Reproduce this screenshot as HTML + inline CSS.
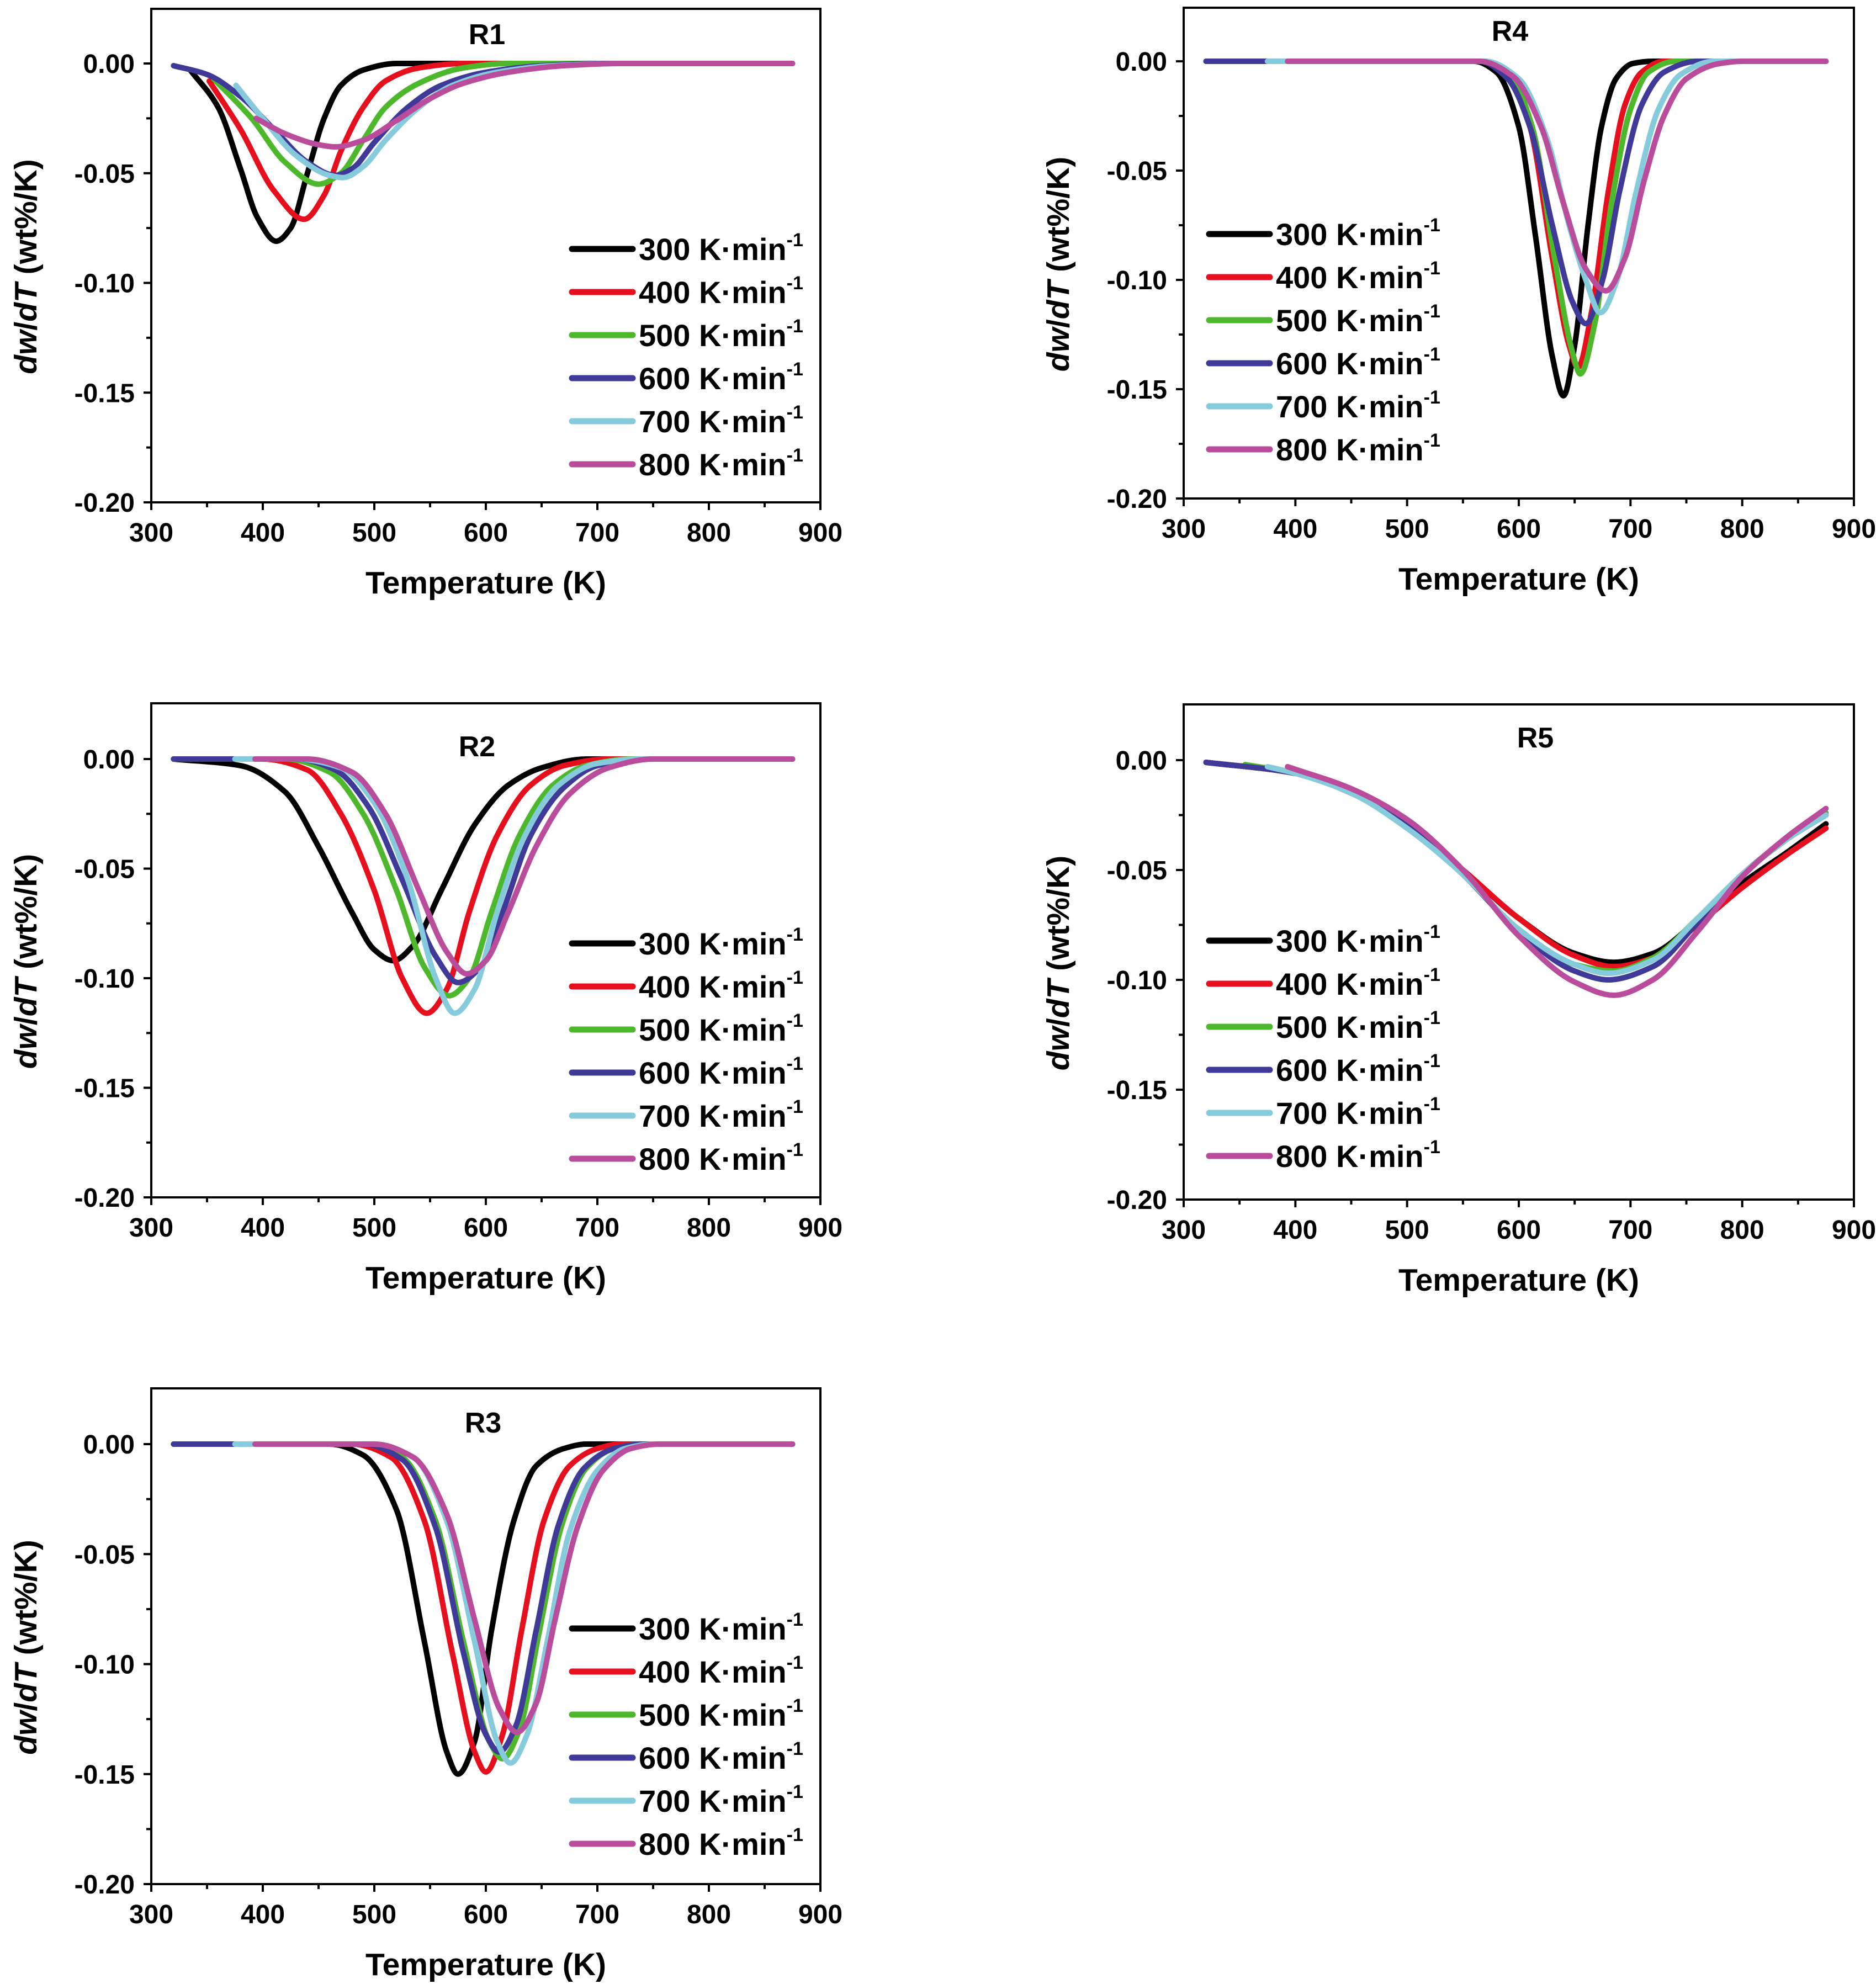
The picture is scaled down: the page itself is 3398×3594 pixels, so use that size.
<!DOCTYPE html>
<html><head><meta charset="utf-8"><style>
html,body{margin:0;padding:0;background:#fff;}
svg{display:block;font-family:"Liberation Sans",Arial,sans-serif;font-weight:bold;}
</style></head><body>
<svg id="fig" xmlns="http://www.w3.org/2000/svg" width="3398" height="3594" viewBox="0 0 3398 3594"></svg>
<script>
// ---- data ----
const seriesLabels = ["300","400","500","600","700","800"];
const seriesColors = ["#000000","#e60f1e","#4db82c","#3f3a98","#86cbdc","#b94d9c"];
const xTicks = [300,400,500,600,700,800,900];
const xTickLabels = ["300","400","500","600","700","800","900"];
const yTicks = [0,-0.05,-0.10,-0.15,-0.20];
const yTickLabels = ["0.00","-0.05","-0.10","-0.15","-0.20"];

// R1
const r1Black=[[335,-0.003],[360,-0.02],[380,-0.048],[395,-0.07],[412,-0.081],[425,-0.075],[440,-0.05],[455,-0.025],[470,-0.01],[490,-0.003],[520,0],[875,0]];
const r1Red=[[352,-0.008],[380,-0.03],[410,-0.058],[437,-0.071],[455,-0.06],[470,-0.04],[490,-0.02],[510,-0.008],[540,-0.002],[580,0],[875,0]];
const r1Green=[[356,-0.007],[390,-0.025],[420,-0.045],[450,-0.055],[470,-0.05],[490,-0.035],[510,-0.02],[540,-0.009],[580,-0.002],[620,0],[875,0]];
const r1Blue=[[320,-0.001],[350,-0.005],[380,-0.015],[410,-0.03],[440,-0.045],[465,-0.051],[480,-0.048],[500,-0.036],[530,-0.02],[560,-0.01],[600,-0.004],[650,-0.001],[700,0],[875,0]];
const r1Cyan=[[376,-0.01],[400,-0.025],[430,-0.042],[460,-0.051],[472,-0.052],[490,-0.047],[510,-0.035],[540,-0.02],[570,-0.01],[610,-0.004],[660,-0.001],[720,0],[875,0]];
const r1Magenta=[[394,-0.025],[420,-0.032],[450,-0.037],[465,-0.038],[490,-0.035],[520,-0.026],[550,-0.016],[580,-0.009],[620,-0.004],[670,-0.001],[720,0],[875,0]];

// R4
const r4Black=[[320,0],[560,0],[580,-0.005],[600,-0.03],[615,-0.08],[630,-0.135],[640,-0.153],[650,-0.13],[662,-0.075],[674,-0.03],[687,-0.008],[702,-0.001],[720,0],[875,0]];
const r4Red=[[320,0],[570,0],[590,-0.006],[610,-0.03],[630,-0.09],[645,-0.13],[653,-0.14],[665,-0.115],[680,-0.06],[695,-0.02],[710,-0.005],[730,0],[875,0]];
const r4Green=[[320,0],[570,0],[592,-0.006],[612,-0.03],[632,-0.09],[648,-0.133],[655,-0.143],[668,-0.12],[683,-0.065],[700,-0.022],[716,-0.005],[740,0],[875,0]];
const r4Blue=[[320,0],[565,0],[590,-0.008],[610,-0.03],[630,-0.075],[648,-0.11],[660,-0.12],[675,-0.1],[690,-0.06],[710,-0.02],[730,-0.005],[760,0],[875,0]];
const r4Cyan=[[375,0],[570,0],[600,-0.008],[625,-0.035],[645,-0.075],[660,-0.1],[673,-0.115],[688,-0.1],[705,-0.06],[725,-0.022],[745,-0.006],[775,0],[875,0]];
const r4Magenta=[[393,0],[565,0],[595,-0.007],[620,-0.03],[640,-0.065],[660,-0.095],[678,-0.105],[695,-0.09],[712,-0.055],[730,-0.025],[750,-0.008],[780,-0.001],[800,0],[875,0]];

// R2
const r2Black=[[320,0],[380,-0.003],[420,-0.015],[450,-0.04],[480,-0.07],[500,-0.087],[517,-0.092],[535,-0.085],[560,-0.06],[590,-0.03],[620,-0.012],[650,-0.004],[690,0],[875,0]];
const r2Red=[[320,0],[400,0],[440,-0.005],[470,-0.025],[500,-0.06],[525,-0.1],[547,-0.116],[565,-0.105],[585,-0.07],[610,-0.035],[640,-0.012],[670,-0.003],[710,0],[875,0]];
const r2Green=[[320,0],[420,0],[460,-0.006],[490,-0.025],[520,-0.06],[545,-0.095],[567,-0.108],[585,-0.1],[605,-0.07],[630,-0.035],[660,-0.012],[690,-0.003],[730,0],[875,0]];
const r2Blue=[[320,0],[430,0],[465,-0.005],[495,-0.022],[525,-0.055],[555,-0.09],[575,-0.102],[595,-0.095],[615,-0.07],[640,-0.035],[670,-0.013],[700,-0.003],[740,0],[875,0]];
const r2Cyan=[[375,0],[430,0],[470,-0.004],[500,-0.02],[530,-0.055],[555,-0.1],[572,-0.116],[590,-0.105],[610,-0.07],[635,-0.035],[665,-0.012],[700,-0.002],[740,0],[875,0]];
const r2Magenta=[[393,0],[440,0],[480,-0.006],[510,-0.025],[540,-0.06],[565,-0.088],[583,-0.098],[600,-0.092],[620,-0.07],[645,-0.04],[675,-0.016],[710,-0.004],[750,0],[875,0]];

// R5
const r5Black=[[320,-0.001],[400,-0.006],[450,-0.015],[500,-0.03],[550,-0.05],[600,-0.072],[650,-0.088],[685,-0.092],[720,-0.088],[760,-0.073],[800,-0.056],[840,-0.042],[875,-0.029]];
const r5Red=[[320,-0.001],[400,-0.006],[450,-0.015],[500,-0.03],[550,-0.05],[600,-0.072],[650,-0.089],[685,-0.094],[720,-0.09],[760,-0.075],[800,-0.058],[840,-0.043],[875,-0.031]];
const r5Green=[[355,-0.002],[400,-0.006],[450,-0.015],[500,-0.03],[550,-0.052],[600,-0.077],[650,-0.093],[685,-0.096],[720,-0.09],[760,-0.072],[800,-0.052],[840,-0.036],[875,-0.024]];
const r5Blue=[[320,-0.001],[400,-0.006],[450,-0.015],[500,-0.03],[550,-0.052],[600,-0.078],[650,-0.096],[680,-0.1],[720,-0.094],[760,-0.074],[800,-0.052],[840,-0.036],[875,-0.025]];
const r5Cyan=[[375,-0.003],[400,-0.006],[450,-0.015],[500,-0.031],[550,-0.052],[600,-0.077],[650,-0.093],[680,-0.097],[720,-0.091],[760,-0.072],[800,-0.052],[840,-0.036],[875,-0.025]];
const r5Magenta=[[393,-0.003],[450,-0.013],[500,-0.027],[550,-0.05],[600,-0.08],[650,-0.101],[685,-0.107],[720,-0.1],[760,-0.078],[800,-0.053],[840,-0.035],[875,-0.022]];

// R3
const r3Black=[[320,0],[460,0],[490,-0.005],[520,-0.03],[545,-0.09],[565,-0.14],[575,-0.15],[590,-0.135],[605,-0.085],[625,-0.035],[645,-0.01],[670,-0.002],[690,0],[875,0]];
const r3Red=[[320,0],[480,0],[515,-0.006],[545,-0.035],[570,-0.095],[590,-0.14],[600,-0.149],[615,-0.132],[632,-0.085],[652,-0.035],[675,-0.01],[700,-0.002],[720,0],[875,0]];
const r3Green=[[320,0],[490,0],[525,-0.006],[555,-0.035],[580,-0.09],[603,-0.135],[615,-0.143],[630,-0.13],[648,-0.085],[668,-0.037],[690,-0.011],[715,-0.002],[740,0],[875,0]];
const r3Blue=[[320,0],[490,0],[525,-0.007],[555,-0.038],[580,-0.095],[600,-0.132],[612,-0.14],[627,-0.128],[645,-0.085],[665,-0.037],[688,-0.011],[715,-0.002],[740,0],[875,0]];
const r3Cyan=[[375,0],[500,0],[535,-0.006],[565,-0.035],[590,-0.09],[610,-0.135],[622,-0.145],[637,-0.132],[655,-0.09],[675,-0.04],[700,-0.012],[725,-0.002],[750,0],[875,0]];
const r3Magenta=[[393,0],[500,0],[535,-0.006],[565,-0.032],[590,-0.08],[612,-0.12],[628,-0.131],[645,-0.118],[662,-0.08],[682,-0.038],[705,-0.012],[730,-0.002],[755,0],[875,0]];

const panelData = {
  R1:[r1Black,r1Red,r1Green,r1Blue,r1Cyan,r1Magenta],
  R4:[r4Black,r4Red,r4Green,r4Blue,r4Cyan,r4Magenta],
  R2:[r2Black,r2Red,r2Green,r2Blue,r2Cyan,r2Magenta],
  R5:[r5Black,r5Red,r5Green,r5Blue,r5Cyan,r5Magenta],
  R3:[r3Black,r3Red,r3Green,r3Blue,r3Cyan,r3Magenta]
};

// ---- layout ----
const panels = [
  {id:"R1",L:274,R:1486,T:16,Y0:115,B:910,tx:882,ty:62,legX:1036,legY:451},
  {id:"R4",L:2144,R:3358,T:14,Y0:111,B:903,tx:2735,ty:56,legX:2190,legY:424},
  {id:"R2",L:274,R:1486,T:1274,Y0:1375,B:2169,tx:864,ty:1352,legX:1036,legY:1709},
  {id:"R5",L:2144,R:3358,T:1276,Y0:1377,B:2173,tx:2781,ty:1336,legX:2190,legY:1704},
  {id:"R3",L:274,R:1486,T:2515,Y0:2616,B:3413,tx:875,ty:2577,legX:1036,legY:2950}
];
const NS="http://www.w3.org/2000/svg";
const svg=document.getElementById('fig');
function mk(tag,parent){const e=document.createElementNS(NS,tag);parent.appendChild(e);return e;}

function smoothPath(pts){
  const n=pts.length; if(n<2) return "";
  const dx=[],m=[],t=[];
  for(let i=0;i<n-1;i++){dx.push(pts[i+1][0]-pts[i][0]);m.push((pts[i+1][1]-pts[i][1])/dx[i]);}
  t[0]=m[0];t[n-1]=m[n-2];
  for(let i=1;i<n-1;i++){ if(m[i-1]*m[i]<=0) t[i]=0; else {const w1=2*dx[i]+dx[i-1],w2=dx[i]+2*dx[i-1]; t[i]=(w1+w2)/(w1/m[i-1]+w2/m[i]);} }
  let d="M"+pts[0][0].toFixed(1)+","+pts[0][1].toFixed(1);
  for(let i=0;i<n-1;i++){
    const h=dx[i]/3;
    d+=" C"+(pts[i][0]+h).toFixed(1)+","+(pts[i][1]+t[i]*h).toFixed(1)+" "+(pts[i+1][0]-h).toFixed(1)+","+(pts[i+1][1]-t[i+1]*h).toFixed(1)+" "+pts[i+1][0].toFixed(1)+","+pts[i+1][1].toFixed(1);
  }
  return d;
}

panels.forEach(p=>{
  const g=mk('g',svg);
  
  
  const xs=v=>p.L+(v-300)/600*(p.R-p.L);
  const ys=v=>p.Y0+(-v)/0.2*(p.B-p.Y0);

  const cg=mk('g',g);
  
  
  panelData[p.id].forEach((ser,i)=>{
    const pts=ser.map(d=>[xs(d[0]),ys(d[1])]);
    const path=mk('path',cg);
    path.setAttribute('d',smoothPath(pts));
    path.setAttribute('fill','none');
    path.setAttribute('stroke',seriesColors[i]);
    path.setAttribute('stroke-width','10');
    path.setAttribute('stroke-linecap','round');
    path.setAttribute('stroke-linejoin','round');
    
    
  });

  const fr=mk('rect',g);
  fr.setAttribute('x',p.L);fr.setAttribute('y',p.T);fr.setAttribute('width',p.R-p.L);fr.setAttribute('height',p.B-p.T);
  fr.setAttribute('fill','none');fr.setAttribute('stroke','#000');fr.setAttribute('stroke-width','4');
  
  

  for(let v=300;v<=900;v+=50){
    const major=(v%100===0);
    const tk=mk('line',g);
    tk.setAttribute('x1',xs(v));tk.setAttribute('x2',xs(v));tk.setAttribute('y1',p.B);tk.setAttribute('y2',p.B+(major?14:9));
    tk.setAttribute('stroke','#000');tk.setAttribute('stroke-width','4');
    
    
  }
  xTicks.forEach((v,i)=>{
    const t=mk('text',g);
    t.setAttribute('x',xs(v));t.setAttribute('y',p.B+71);t.setAttribute('text-anchor','middle');t.setAttribute('font-size','48');
    t.textContent=xTickLabels[i];
    
    
  });
  for(let k=0;k<=8;k++){
    const v=-0.025*k;
    const major=(k%2===0);
    const tk=mk('line',g);
    tk.setAttribute('x1',p.L);tk.setAttribute('x2',p.L-(major?14:9));tk.setAttribute('y1',ys(v));tk.setAttribute('y2',ys(v));
    tk.setAttribute('stroke','#000');tk.setAttribute('stroke-width','4');
    
    
  }
  yTicks.forEach((v,i)=>{
    const t=mk('text',g);
    t.setAttribute('x',p.L-30);t.setAttribute('y',ys(v)+17);t.setAttribute('text-anchor','end');t.setAttribute('font-size','48');
    t.textContent=yTickLabels[i];
    
    
  });
  const xt=mk('text',g);
  xt.setAttribute('x',(p.L+p.R)/2);xt.setAttribute('y',p.B+165);xt.setAttribute('text-anchor','middle');xt.setAttribute('font-size','57');
  xt.textContent='Temperature (K)';
  
  
  const yt=mk('text',g);
  const cy=(p.T+p.B)/2+20;
  yt.setAttribute('transform','translate('+(p.L-208)+','+cy+') rotate(-90)');
  yt.setAttribute('text-anchor','middle');yt.setAttribute('font-size','57');
  yt.innerHTML='<tspan font-style="italic">dw</tspan>/<tspan font-style="italic">dT</tspan> (wt%/K)';
  
  
  const pt=mk('text',g);
  pt.setAttribute('x',p.tx);pt.setAttribute('y',p.ty+18);pt.setAttribute('text-anchor','middle');pt.setAttribute('font-size','52');
  pt.textContent=p.id;
  
  
  const lg=mk('g',g);
  
  
  seriesLabels.forEach((s,i)=>{
    const y=p.legY+78*i;
    const ln=mk('line',lg);
    ln.setAttribute('x1',p.legX);ln.setAttribute('x2',p.legX+110);ln.setAttribute('y1',y);ln.setAttribute('y2',y);
    ln.setAttribute('stroke',seriesColors[i]);ln.setAttribute('stroke-width','11');ln.setAttribute('stroke-linecap','round');
    
    
    const t=mk('text',lg);
    t.setAttribute('x',p.legX+121);t.setAttribute('y',y+20);t.setAttribute('font-size','56');
    t.innerHTML=s+' K·min<tspan font-size="34" dy="-25">-1</tspan>';
    
    
  });
});
</script>
</body></html>
